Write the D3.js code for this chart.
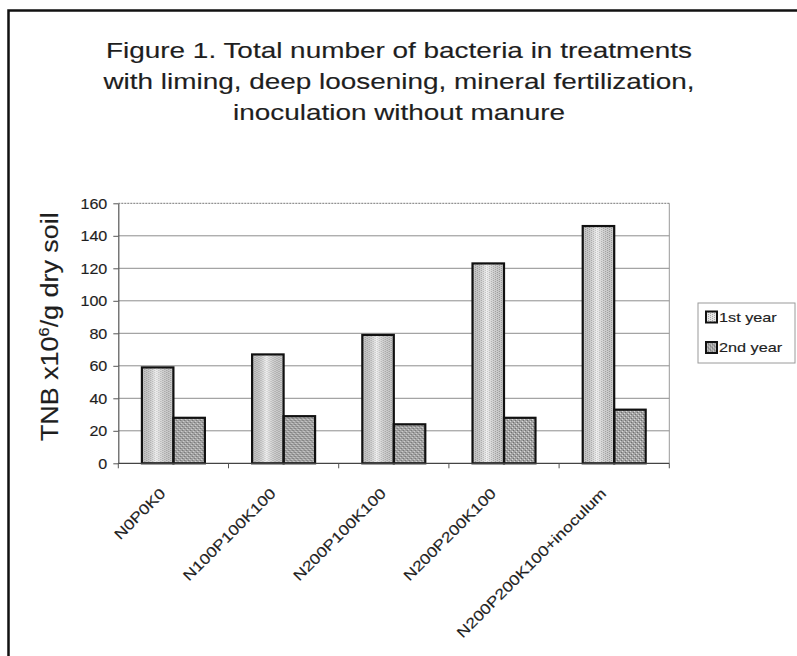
<!DOCTYPE html>
<html>
<head>
<meta charset="utf-8">
<script src="https://cdn.jsdelivr.net/npm/d3@7/dist/d3.min.js"></script>
<style>
  html, body { margin: 0; padding: 0; background: #fff; }
  svg { display: block; }
  text { font-family: "Liberation Sans", Arial, sans-serif; fill: #1e1e1e; stroke: #1e1e1e; stroke-width: 0.15px; }
</style>
</head>
<body>
<script>
// Treatments and total bacteria counts (x10^6 per g dry soil)
const categories = ["N0P0K0", "N100P100K100", "N200P100K100", "N200P200K100", "N200P200K100+inoculum"];
const series = ["1st year", "2nd year"];
const firstYear = [59, 67, 79, 123, 146];
const secondYear = [28, 29, 24, 28, 33];
const yTicks = [0, 20, 40, 60, 80, 100, 120, 140, 160];
const titleLines = [
  "Figure 1. Total number of bacteria in treatments",
  "with liming, deep loosening, mineral fertilization,",
  "inoculation without manure"
];

const W = 797, H = 656;
const plot = { left: 118.3, right: 669.3, top: 203.3, bottom: 463.3 };

const svg = d3.select("body").append("svg").attr("width", W).attr("height", H);

// Fill patterns for the two series
const defs = svg.append("defs");
const p1 = defs.append("pattern").attr("id", "fill1").attr("patternUnits", "userSpaceOnUse")
  .attr("width", 4).attr("height", 4);
p1.append("rect").attr("width", 4).attr("height", 4).attr("fill", "#e6e6e6");
[[0,0],[0,2],[2,1],[2,3]].forEach(([x, y]) =>
  p1.append("rect").attr("x", x).attr("y", y).attr("width", 1).attr("height", 1).attr("fill", "#a9a9a9"));

const p2 = defs.append("pattern").attr("id", "fill2").attr("patternUnits", "userSpaceOnUse")
  .attr("width", 4).attr("height", 4);
p2.append("rect").attr("width", 4).attr("height", 4).attr("fill", "#a2a2a2");
[[1,1],[3,3]].forEach(([x, y]) =>
  p2.append("rect").attr("x", x).attr("y", y).attr("width", 1).attr("height", 1).attr("fill", "#dedede"));
[[0,2],[2,0]].forEach(([x, y]) =>
  p2.append("rect").attr("x", x).attr("y", y).attr("width", 1).attr("height", 1).attr("fill", "#6c6c6c"));

// Soft shading across the light bars
const shade = defs.append("linearGradient").attr("id", "shade").attr("x1", "0").attr("x2", "1").attr("y1", "0").attr("y2", "0");
shade.append("stop").attr("offset", "0%").attr("stop-color", "#000").attr("stop-opacity", 0.12);
shade.append("stop").attr("offset", "45%").attr("stop-color", "#fff").attr("stop-opacity", 0.4);
shade.append("stop").attr("offset", "100%").attr("stop-color", "#000").attr("stop-opacity", 0.1);

const fills = { "1st year": "url(#fill1)", "2nd year": "url(#fill2)" };

// Outer frame
svg.append("rect").attr("x", 8.5).attr("y", 10.5).attr("width", W + 20).attr("height", H + 20)
  .attr("fill", "none").attr("stroke", "#111").attr("stroke-width", 2.5);

// Title
svg.append("g").selectAll("text").data(titleLines).join("text")
  .attr("transform", (d, i) => `translate(399,${58.3 + i * 31}) scale(1.27,1)`)
  .attr("text-anchor", "middle")
  .attr("font-size", 22)
  .text(d => d);

// Scales
const x = d3.scaleBand().domain(categories).range([plot.left, plot.right]).paddingInner(0).paddingOuter(0);
const xs = d3.scaleBand().domain(series).range([0, x.bandwidth()]).paddingInner(0).paddingOuter(0.75);
const y = d3.scaleLinear().domain([0, 160]).range([plot.bottom, plot.top]);

// Gridlines
svg.append("g").selectAll("line").data(yTicks.filter(v => v > 0)).join("line")
  .attr("x1", plot.left).attr("x2", plot.right)
  .attr("y1", d => y(d)).attr("y2", d => y(d))
  .attr("stroke", d => d === 160 ? "#777" : "#8e8e8e")
  .attr("stroke-width", 1)
  .attr("stroke-dasharray", d => d === 160 ? "2,1" : null);

// Right edge of plot area
svg.append("line").attr("x1", plot.right).attr("x2", plot.right)
  .attr("y1", plot.top).attr("y2", plot.bottom)
  .attr("stroke", "#999").attr("stroke-width", 1);

// Y axis
const yAxis = svg.append("g").attr("transform", `translate(${plot.left},0)`)
  .call(d3.axisLeft(y).tickValues(yTicks).tickSize(5).tickSizeOuter(0).tickPadding(0));
yAxis.select(".domain").attr("stroke", "#555").attr("stroke-width", 1.2);
yAxis.selectAll(".tick line").attr("stroke", "#555");
yAxis.selectAll(".tick text")
  .attr("x", 0).attr("dy", "0.35em")
  .attr("transform", "translate(-11,0) scale(1.15,1)")
  .attr("font-size", 14)
  .attr("font-family", "Liberation Sans, Arial, sans-serif")
  .attr("fill", "#1e1e1e");

// Y axis title
const yTitle = svg.append("text")
  .attr("transform", "translate(58,326.7) rotate(-90) scale(1.17,1)")
  .attr("text-anchor", "middle")
  .attr("font-size", 23);
yTitle.append("tspan").text("TNB x10");
yTitle.append("tspan").attr("font-size", 14).attr("dy", -9).text("6");
yTitle.append("tspan").attr("dy", 9).text("/g dry soil");

// Bars
const rows = categories.map((c, i) => ({ cat: c, values: [
  { s: "1st year", v: firstYear[i] }, { s: "2nd year", v: secondYear[i] } ] }));

const groups = svg.append("g").selectAll("g").data(rows).join("g")
  .attr("transform", d => `translate(${x(d.cat)},0)`);

groups.selectAll("rect.fill").data(d => d.values).join("rect").attr("class", "fill")
  .attr("x", d => xs(d.s)).attr("width", xs.bandwidth())
  .attr("y", d => y(d.v)).attr("height", d => y(0) - y(d.v))
  .attr("fill", d => fills[d.s]);

groups.selectAll("rect.shade").data(d => d.values.filter(e => e.s === "1st year")).join("rect").attr("class", "shade")
  .attr("x", d => xs(d.s)).attr("width", xs.bandwidth())
  .attr("y", d => y(d.v)).attr("height", d => y(0) - y(d.v))
  .attr("fill", "url(#shade)");

groups.selectAll("rect.edge").data(d => d.values).join("rect").attr("class", "edge")
  .attr("x", d => xs(d.s)).attr("width", xs.bandwidth())
  .attr("y", d => y(d.v)).attr("height", d => y(0) - y(d.v))
  .attr("fill", "none").attr("stroke", "#111").attr("stroke-width", 2.2);

// X axis line and category boundary ticks
svg.append("line").attr("x1", plot.left).attr("x2", plot.right)
  .attr("y1", y(0)).attr("y2", y(0)).attr("stroke", "#444").attr("stroke-width", 1.3);
const bounds = categories.map(c => x(c)).concat([x(categories[categories.length - 1]) + x.bandwidth()]);
svg.append("g").selectAll("line").data(bounds).join("line")
  .attr("x1", d => d).attr("x2", d => d)
  .attr("y1", y(0)).attr("y2", y(0) + 5)
  .attr("stroke", "#555");

// Category labels
svg.append("g").selectAll("text").data(categories).join("text")
  .attr("transform", d => `translate(${x(d) + x.bandwidth() / 2 - 7},${y(0) + 31}) rotate(-45) scale(1.21,1)`)
  .attr("text-anchor", "end")
  .attr("font-size", 14.5)
  .text(d => d);

// Legend
const lg = svg.append("g").attr("transform", "translate(698,303)");
lg.append("rect").attr("width", 97).attr("height", 60)
  .attr("fill", "#fff").attr("stroke", "#9a9a9a").attr("stroke-width", 1);
const items = lg.selectAll("g").data(series).join("g")
  .attr("transform", (d, i) => `translate(0,${14 + i * 30.5})`);
items.append("rect").attr("x", 8).attr("y", -5.5).attr("width", 11).attr("height", 11)
  .attr("fill", d => fills[d]).attr("stroke", "#111").attr("stroke-width", 2);
items.append("text")
  .attr("transform", "translate(21,0) scale(1.25,1)")
  .attr("dy", "0.36em")
  .attr("font-size", 13)
  .text(d => d);
</script>
</body>
</html>
